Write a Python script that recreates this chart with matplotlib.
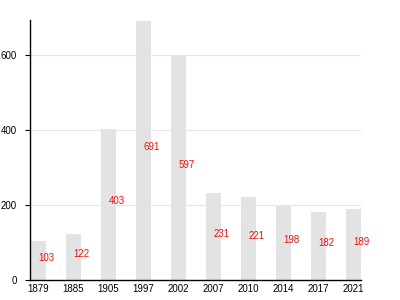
import matplotlib
matplotlib.use('Agg')
import matplotlib.pyplot as plt

years = ['1879', '1885', '1905', '1997', '2002', '2007', '2010', '2014', '2017', '2021']
values = [103, 122, 403, 691, 597, 231, 221, 198, 182, 189]
y_ticks = [0, 200, 400, 600]

plt.rcParams['font.family'] = ['Liberation Sans', 'DejaVu Sans']

fig = plt.figure(figsize=(4, 3), dpi=100)
ax = fig.add_axes([0.075, 0.0667, 0.8275, 0.8667])

x = list(range(len(years)))
ax.bar(x, values, width=0.45, color='#e3e3e3', zorder=2)

# value labels sit at mid-height, starting at the bar centre
for xi, v in zip(x, values):
    ax.text(xi, v / 2, str(v), color='#ee1111', fontsize=7,
            ha='left', va='baseline', zorder=3)

ax.set_xlim(-0.243, 9.214)
ax.set_ylim(0, 693)
ax.set_xticks(x)
ax.set_xticklabels(years)
ax.set_yticks(y_ticks)
ax.tick_params(axis='both', labelsize=7, colors='black')
ax.tick_params(axis='y', length=3.6, width=0.8, pad=5.8)
ax.tick_params(axis='x', length=0, pad=3)

ax.grid(axis='y', color='#e6e6e6', linewidth=0.8, zorder=0)
ax.set_axisbelow(True)
for side in ('top', 'right'):
    ax.spines[side].set_visible(False)
for side in ('left', 'bottom'):
    ax.spines[side].set_linewidth(1.0)
    ax.spines[side].set_color('black')

fig.savefig('out.png', dpi=100)
